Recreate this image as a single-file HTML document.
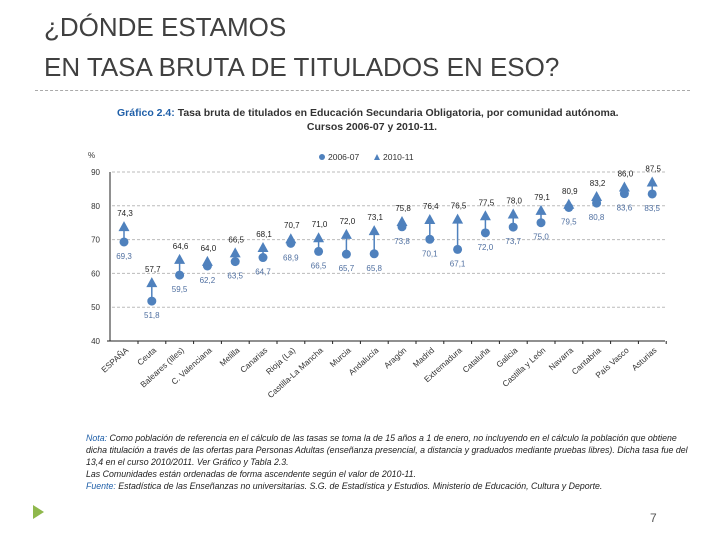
<!DOCTYPE html>
<html><head><meta charset="utf-8"><style>
body{margin:0;background:#fff;width:720px;height:540px;overflow:hidden;font-family:"Liberation Sans",sans-serif;position:relative}
.t{position:absolute;left:44px;font-size:26px;color:#404040;letter-spacing:0px}
.note{position:absolute;left:86px;font-size:8.8px;font-style:italic;color:#222;line-height:12px;width:608px}
</style></head><body>
<div class="t" style="top:12px">¿DÓNDE ESTAMOS</div>
<div class="t" style="top:52px">EN TASA BRUTA DE TITULADOS EN ESO?</div>
<div style="position:absolute;left:35px;top:90px;width:655px;border-top:1px dashed #aaa"></div>
<svg id="c" width="720" height="540" style="position:absolute;left:0;top:0">
<text x="117" y="116" font-size="10.5" font-weight="bold" fill="#333"><tspan fill="#1f5fa8">Gráfico 2.4:</tspan> Tasa bruta de titulados en Educación Secundaria Obligatoria, por comunidad autónoma.</text>
<text x="372" y="130" font-size="10.5" font-weight="bold" fill="#333" text-anchor="middle">Cursos 2006-07 y 2010-11.</text>
<text x="88" y="158" font-size="8" fill="#333">%</text>
<circle cx="322" cy="157" r="3" fill="#4f81bd"/>
<text x="328" y="160" font-size="8.5" fill="#333">2006-07</text>
<polygon points="377,154 380,160 374,160" fill="#4f81bd"/>
<text x="383" y="160" font-size="8.5" fill="#333">2010-11</text>
<g id="g"></g>
</svg>
<div class="note" style="top:432px"><span style="color:#1f5fa8">Nota:</span> Como población de referencia en el cálculo de las tasas se toma la de 15 años a 1 de enero, no incluyendo en el cálculo la población que obtiene dicha titulación a través de las ofertas para Personas Adultas (enseñanza presencial, a distancia y graduados mediante pruebas libres). Dicha tasa fue del 13,4 en el curso 2010/2011. Ver Gráfico y Tabla 2.3.<br>Las Comunidades están ordenadas de forma ascendente según el valor de 2010-11.<br><span style="color:#1f5fa8">Fuente:</span> Estadística de las Enseñanzas no universitarias. S.G. de Estadística y Estudios. Ministerio de Educación, Cultura y Deporte.</div>
<svg width="720" height="540" style="position:absolute;left:0;top:0">
<polygon points="33,505 33,519 44,512" fill="#8fb84c"/>
<text x="650" y="522" font-size="12" fill="#555">7</text>
</svg>
<script>
const categories=["ESPAÑA","Ceuta","Baleares (Illes)","C. Valenciana","Melilla","Canarias","Rioja (La)","Castilla-La Mancha","Murcia","Andalucía","Aragón","Madrid","Extremadura","Cataluña","Galicia","Castilla y León","Navarra","Cantabria","País Vasco","Asturias"];
const v2006=[69.3,51.8,59.5,62.2,63.5,64.7,68.9,66.5,65.7,65.8,73.8,70.1,67.1,72.0,73.7,75.0,79.5,80.8,83.6,83.5];
const v2010=[74.3,57.7,64.6,64.0,66.5,68.1,70.7,71.0,72.0,73.1,75.8,76.4,76.5,77.5,78.0,79.1,80.9,83.2,86.0,87.5];
const yTicks=[40,50,60,70,80,90];
const NS="http://www.w3.org/2000/svg",g=document.getElementById('g');
const x=i=>124+i*27.8, y=v=>341-(v-40)*3.38;
function mk(t,a,txt){const e=document.createElementNS(NS,t);for(const k in a)e.setAttribute(k,a[k]);if(txt!=null)e.textContent=txt;g.appendChild(e);return e;}
const fmt=v=>v.toFixed(1).replace('.',',');
yTicks.forEach(t=>{
 if(t>40){const l=mk('line',{x1:112,x2:665,y1:y(t),y2:y(t),stroke:'#bbb','stroke-dasharray':'3,2'});
 
 }
 const tx=mk('text',{x:100,y:y(t)+3,'font-size':8,fill:'#333','text-anchor':'end'},t);
 
 
});
let ax=mk('line',{x1:110,x2:110,y1:y(90),y2:y(40),stroke:'#222'});


ax=mk('line',{x1:107,x2:665,y1:y(40),y2:y(40),stroke:'#222'});


categories.forEach((c,i)=>{
 const xi=x(i),a=v2006[i],b=v2010[i];
 const tk=mk('line',{x1:xi+14,x2:xi+14,y1:y(40),y2:y(40)+3,stroke:'#222'});
 
 
 const lb=mk('text',{x:xi+5,y:y(40)+10,'font-size':8.3,fill:'#333','text-anchor':'end',transform:`rotate(-42 ${xi+5} ${y(40)+10})`},c);
 
 
 const ln=mk('line',{x1:xi,x2:xi,y1:y(a),y2:y(b)+4,stroke:'#4f81bd','stroke-width':1.5});
 
 
 const ci=mk('circle',{cx:xi,cy:y(a),r:4.5,fill:'#4f81bd'});
 
 
 const yb=y(b);
 const tr=mk('polygon',{points:`${xi},${yb-4} ${xi+5.5},${yb+6} ${xi-5.5},${yb+6}`,fill:'#4f81bd'});
 
 
 const l1=mk('text',{x:xi,y:y(a)+17,'font-size':8,fill:'#4f6fa0','text-anchor':'middle'},fmt(a));
 
 
 const l2=mk('text',{x:xi+1,y:yb-9,'font-size':8,fill:'#222','text-anchor':'middle'},fmt(b));
 
 
});
</script>
</body></html>
